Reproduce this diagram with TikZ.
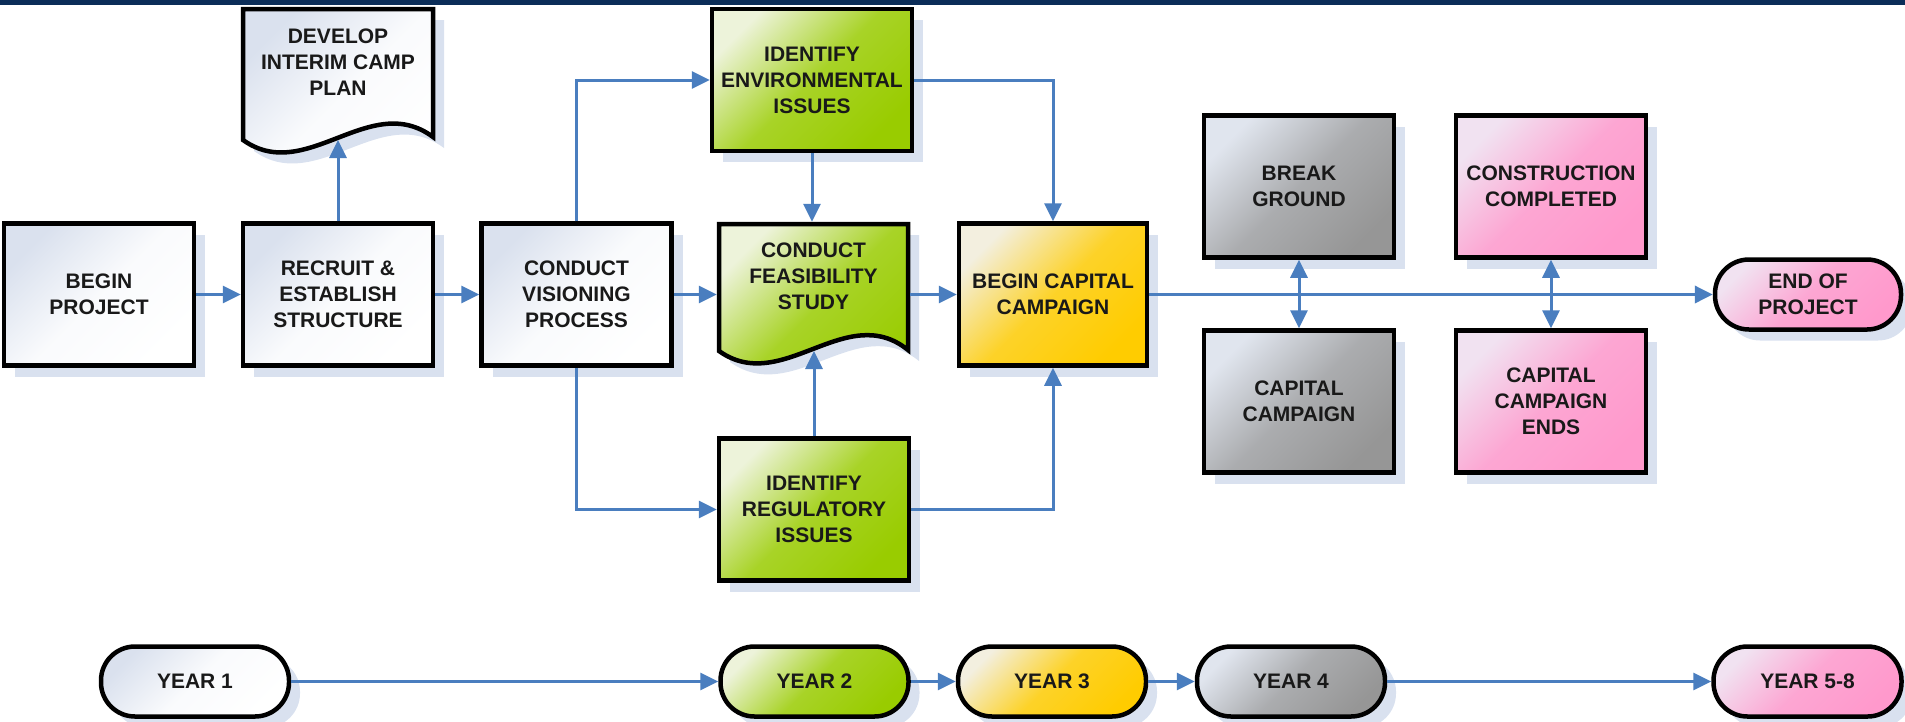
\documentclass[tikz,border=0pt]{standalone}
\usepackage{fontspec}
\setmainfont{Liberation Sans}
\usetikzlibrary{arrows.meta,shadows}
\definecolor{navy}{HTML}{0B2D58}
\definecolor{arr}{HTML}{4A7EBF}
\definecolor{shcol}{HTML}{D9E1EF}
\definecolor{wL}{HTML}{DAE1EE}\definecolor{wF}{HTML}{FFFFFF}
\definecolor{gL}{HTML}{EDF3DA}\definecolor{gF}{HTML}{99CC00}
\definecolor{yL}{HTML}{F3EFDF}\definecolor{yF}{HTML}{FFCC00}
\definecolor{kL}{HTML}{E0E5EE}\definecolor{kF}{HTML}{969696}
\definecolor{pL}{HTML}{F1E2F1}\definecolor{pF}{HTML}{FF99CC}
\tikzset{
  fillW/.style={top color=wL, bottom color=wF, middle color=wF!85!wL, shading angle=45},
  fillG/.style={top color=gL, bottom color=gF, middle color=gF!82!gL, shading angle=45},
  fillY/.style={top color=yL, bottom color=yF, middle color=yF!82!yL, shading angle=45},
  fillK/.style={top color=kL, bottom color=kF, middle color=kF!72!kL, shading angle=45},
  fillP/.style={top color=pL, bottom color=pF, middle color=pF!82!pL, shading angle=45},
  lbl/.style={inner sep=0pt, align=center, text=black!90, font=\fontsize{21}{26}\selectfont\bfseries},
  box/.style={lbl, draw=black, line width=4.5pt, minimum width=190pt, minimum height=142pt,
    drop shadow={shadow xshift=11pt, shadow yshift=-11pt, fill=shcol, opacity=1, draw=none}},
  stad/.style={box, rounded corners=34pt, minimum height=70pt, minimum width=188pt},
  conn/.style={draw=arr, line width=3pt, -{Triangle[length=18pt,width=17pt]}},
  dconn/.style={draw=arr, line width=3pt, {Triangle[length=18pt,width=17pt]}-{Triangle[length=18pt,width=17pt]}},
  doc/.style={draw=black, line width=4.5pt},
}
\begin{document}
\begin{tikzpicture}[x=1pt, y=-1pt]
\useasboundingbox (0,0) rectangle (1905,721);
\fill[navy] (0,0) rectangle (1905,5);

% document shapes: shadows
\begin{scope}[shift={(11,11)}]
\fill[shcol] (243,9) -- (433,9) -- (433,137) .. controls (370,90) and (306,185) .. (243,140) -- cycle;
\fill[shcol] (719,224) -- (908,224) -- (908,350) .. controls (846,300) and (782,396) .. (719,351) -- cycle;
\end{scope}
% document shapes
\path[doc, fillW] (243,9) -- (433,9) -- (433,137) .. controls (370,90) and (306,185) .. (243,140) -- cycle;
\path[doc, fillG] (719,224) -- (908,224) -- (908,350) .. controls (846,300) and (782,396) .. (719,351) -- cycle;
\node[lbl, minimum width=194pt, minimum height=110pt] (dev) at (338,62) {DEVELOP\\INTERIM CAMP\\PLAN};
\node[lbl, minimum width=193pt, minimum height=108pt] (feas) at (813.5,276) {CONDUCT\\FEASIBILITY\\STUDY};
\coordinate (devb) at (338,140);
\coordinate (feasb) at (814,351);

% boxes
\node[box, fillW] (begin) at (99,294.5) {BEGIN\\PROJECT};
\node[box, fillW] (recruit) at (338,294.5) {RECRUIT \&\\ESTABLISH\\STRUCTURE};
\node[box, fillW] (vision) at (576.5,294.5) {CONDUCT\\VISIONING\\PROCESS};
\node[box, fillG, minimum width=200pt] (env) at (812,80) {IDENTIFY\\ENVIRONMENTAL\\ISSUES};
\node[box, fillG] (reg) at (814,509.5) {IDENTIFY\\REGULATORY\\ISSUES};
\node[box, fillY, minimum width=188pt] (cap) at (1053,294.5) {BEGIN CAPITAL\\CAMPAIGN};
\node[box, fillK] (brk) at (1299,186.5) {BREAK\\GROUND};
\node[box, fillK] (ccamp) at (1299,401.5) {CAPITAL\\CAMPAIGN};
\node[box, fillP] (cons) at (1551,186.5) {CONSTRUCTION\\COMPLETED};
\node[box, fillP] (cends) at (1551,401.5) {CAPITAL\\CAMPAIGN\\ENDS};
\node[stad, fillP, minimum width=186pt] (end) at (1808,294.5) {END OF\\PROJECT};

% years
\node[stad, fillW] (y1) at (195,681.5) {YEAR 1};
\node[stad, fillG] (y2) at (814.5,681.5) {YEAR 2};
\node[stad, fillY] (y3) at (1052,681.5) {YEAR 3};
\node[stad, fillK] (y4) at (1291,681.5) {YEAR 4};
\node[stad, fillP] (y5) at (1807.5,681.5) {YEAR 5-8};

% connectors
\draw[conn] (begin.east) -- (recruit.west);
\draw[conn] (recruit.north) -- (devb);
\draw[conn] (recruit.east) -- (vision.west);
\draw[conn] (vision.north) |- (env.west);
\draw[conn] (vision.south) |- (reg.west);
\draw[conn] (vision.east) -- (vision.east -| feas.west);
\draw[conn] (env.south) -- (env.south |- feas.north);
\draw[conn] (env.east) -| (cap.north);
\draw[conn] (feas.east |- cap.west) -- (cap.west);
\draw[conn] (reg.north) -- (feasb);
\draw[conn] (reg.east) -| (cap.south);
\draw[conn, line width=3.5pt] (cap.east) -- (cap.east -| end.west);
\draw[dconn] (brk.south) -- (ccamp.north);
\draw[dconn] (cons.south) -- (cends.north);

\draw[conn] (y1.east) -- (y2.west);
\draw[conn] (y2.east) -- (y3.west);
\draw[conn] (y3.east) -- (y4.west);
\draw[conn] (y4.east) -- (y5.west);
\end{tikzpicture}
\end{document}
